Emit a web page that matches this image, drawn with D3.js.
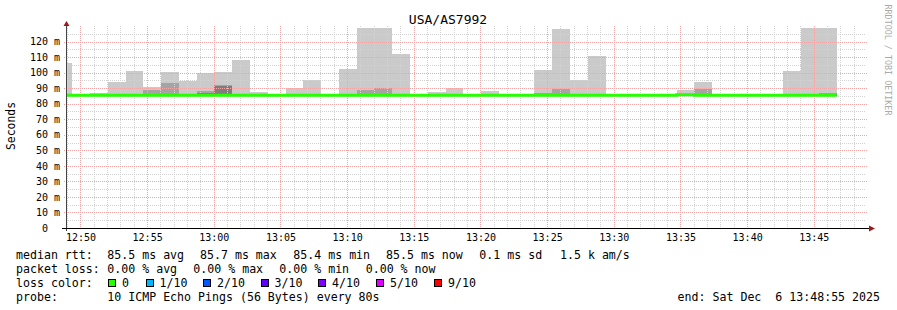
<!DOCTYPE html>
<html><head><meta charset="utf-8">
<script src="https://cdn.jsdelivr.net/npm/d3@7"></script>
<style>
html,body{margin:0;padding:0;background:#fff;}
svg text{font-family:"DejaVu Sans Mono",monospace;white-space:pre;}
</style>
</head><body>
<svg id="chart" width="897" height="310"></svg>
<script>
// ---------- data ----------
const chartTitle = "USA/AS7992";
const yAxisTitle = "Seconds";
const stepSeconds = 80;
const firstColumnStart = "2025-12-06T12:48:03Z";
const rangeStart = "2025-12-06T12:48:55Z";
const rangeEnd = "2025-12-06T13:48:55Z";

// one entry per 80 s column (milliseconds)
const medianRtt = [85.5,85.5,85.5,85.5,85.5,85.5,85.5,85.5,85.5,85.4,85.5,85.5,85.5,85.5,85.5,85.5,85.5,85.5,85.5,85.5,85.5,85.5,85.5,85.5,85.5,85.5,85.5,85.5,85.5,85.5,85.5,85.5,85.5,85.5,85.5,85.7,85.4,85.5,85.5,85.5,85.5,85.5,85.5,85.5];
const pingMax   = [106.5,86,86.8,94.2,101.0,90.7,100.5,94.8,99.8,100.5,108.2,87.6,86,89.8,95.3,86,102.4,128.9,128.9,112.1,86,87.7,90.2,86,88.2,86,86,101.8,128.3,95.3,110.8,86,86,86,86,88.9,94.1,86,86,86,86,101.1,128.8,128.8];
const ping9     = [86,86,86,86,86,88.5,93.5,86,88.0,91.8,86,86,86,86,86,86,86,88.9,90.2,86,86,86,86,86,86,86,86,87.1,89.6,86,86,86,86,86,86,86.5,89.6,86,86,86,86,86,86,87.0];
const ping8     = [86,86,86,86,86,86,86,86,87.2,91.5,86,86,86,86,86,86,86,86,86,86,86,86,86,86,86,86,86,86,86,86,86,86,86,86,86,86,86,86,86,86,86,86,86,86];
const pingMin   = [85.2,85.2,85.2,85.2,85.2,85.2,85.2,85.2,85.2,85.2,85.2,85.2,85.2,85.2,85.2,85.2,85.2,85.2,85.2,85.2,85.2,85.2,85.2,85.2,85.2,85.2,85.2,85.2,85.2,85.2,85.2,85.2,85.2,85.2,85.2,85.2,85.2,85.2,85.2,85.2,85.2,85.2,85.2,85.2];

const yTickValues = [0,10,20,30,40,50,60,70,80,90,100,110,120];
const yTickLabels = ["0","10 m","20 m","30 m","40 m","50 m","60 m","70 m","80 m","90 m","100 m","110 m","120 m"];
const yDomainMax = 130;

const rttLegend  = ["median rtt:","85.5 ms avg","85.7 ms max","85.4 ms min","85.5 ms now","0.1 ms sd","1.5 k am/s"];
const lossLegend = ["packet loss:","0.00 % avg","0.00 % max","0.00 % min","0.00 % now"];
const lossColorTitle = "loss color:";
const lossLabels = ["0","1/10","2/10","3/10","4/10","5/10","9/10"];
const lossColors = ["#26ff00","#00b8ff","#0059ff","#5e00ff","#7e00ff","#dd00ff","#ff0000"];
const probeLegend = ["probe:","10 ICMP Echo Pings (56 Bytes) every 80s"];
const endLabel = "end: Sat Dec  6 13:48:55 2025";
const watermark = "RRDTOOL / TOBI OETIKER";

// ---------- layout ----------
const svg = d3.select("#chart");
const P = {left:66, right:866, top:26, bottom:228};
const x = d3.scaleUtc().domain([new Date(rangeStart), new Date(rangeEnd)]).range([P.left, P.right]);
const y = d3.scaleLinear().domain([0, yDomainMax]).range([P.bottom, P.top]);

const t0 = new Date(firstColumnStart).getTime();
const cols = medianRtt.map((m,i)=>({
  s: new Date(t0 + i*stepSeconds*1000),
  e: new Date(t0 + (i+1)*stepSeconds*1000),
  med: m, max: pingMax[i], p9: ping9[i], p8: ping8[i], min: pingMin[i]
}));

svg.append("defs").append("clipPath").attr("id","plotclip")
  .append("rect").attr("x",P.left).attr("y",P.top).attr("width",P.right-P.left).attr("height",P.bottom-P.top);

const plot = svg.append("g").attr("clip-path","url(#plotclip)");

// smoke bands (outer -> inner)
const bands = [["max","#cacaca"],["p9","#a4a4a4"],["p8","#7e7e7e"]];
bands.forEach(([k,c])=>{
  plot.append("g").selectAll("rect").data(cols).join("rect")
    .attr("x", d=>x(d.s)).attr("width", d=>x(d.e)-x(d.s))
    .attr("y", d=>y(d[k])).attr("height", d=>Math.max(0,y(d.min)-y(d[k])))
    .attr("fill", c).attr("shape-rendering","crispEdges");
});

// grid (drawn over smoke, as rrdtool does)
const grid = svg.append("g").attr("shape-rendering","crispEdges");
const minorX = d3.utcMinute.every(1).range(x.domain()[0], x.domain()[1]);
const majorX = d3.utcMinute.every(5).range(x.domain()[0], x.domain()[1]);
const isMajor = d=>d.getUTCMinutes()%5===0;
const minorCol = "#d2d2d2", majorCol = "#f2a4a4";
grid.selectAll("line.vmin").data(minorX.filter(d=>!isMajor(d))).join("line")
  .attr("x1",d=>Math.round(x(d))+0.5).attr("x2",d=>Math.round(x(d))+0.5)
  .attr("y1",P.top).attr("y2",P.bottom)
  .attr("stroke",minorCol).attr("stroke-dasharray","1,1");
const hMinor = d3.range(5, yDomainMax, 10);
grid.selectAll("line.hmin").data(hMinor).join("line")
  .attr("x1",P.left).attr("x2",P.right)
  .attr("y1",d=>Math.round(y(d))+0.5).attr("y2",d=>Math.round(y(d))+0.5)
  .attr("stroke",minorCol).attr("stroke-dasharray","1,1");
grid.selectAll("line.vmaj").data(majorX).join("line")
  .attr("x1",d=>Math.round(x(d))+0.5).attr("x2",d=>Math.round(x(d))+0.5)
  .attr("y1",P.top).attr("y2",P.bottom+2)
  .attr("stroke",majorCol).attr("stroke-dasharray","1,1");
grid.selectAll("line.hmaj").data(yTickValues.filter(v=>v>0)).join("line")
  .attr("x1",P.left-2).attr("x2",P.right+2)
  .attr("y1",d=>Math.round(y(d))+0.5).attr("y2",d=>Math.round(y(d))+0.5)
  .attr("stroke",majorCol).attr("stroke-dasharray","1,1");

// median line (on top of grid)
const pts = [];
cols.forEach(d=>{pts.push([d.s,d.med]);});
pts.push([cols[cols.length-1].e, cols[cols.length-1].med]);
svg.append("g").attr("clip-path","url(#plotclip)").append("path").datum(pts)
  .attr("d", d3.line().x(d=>x(d[0])).y(d=>y(d[1])).curve(d3.curveStepAfter))
  .attr("fill","none").attr("stroke",lossColors[0]).attr("stroke-width",3);

// axes lines + arrows
svg.append("line").attr("x1",P.left+0.5).attr("x2",P.left+0.5).attr("y1",P.bottom+3).attr("y2",P.top-4)
  .attr("stroke","#444").attr("shape-rendering","crispEdges");
svg.append("line").attr("x1",P.left-4).attr("x2",P.right+4).attr("y1",P.bottom+0.5).attr("y2",P.bottom+0.5)
  .attr("stroke","#000").attr("shape-rendering","crispEdges");
svg.append("path").attr("d",`M${P.left+0.5},${P.top-5} L${P.left-2.5},${P.top} L${P.left+3.5},${P.top} Z`).attr("fill","#a01818");
svg.append("path").attr("d",`M${P.right+9},${P.bottom+0.5} L${P.right+3},${P.bottom-2.5} L${P.right+3},${P.bottom+3.5} Z`).attr("fill","#a01818");

// y axis labels
const yAxis = d3.axisLeft(y).tickValues(yTickValues)
  .tickFormat((d,i)=>yTickLabels[i]).tickSize(0).tickPadding(6);
const gy = svg.append("g").attr("transform",`translate(${P.left},0)`).call(yAxis);
gy.select(".domain").remove();
gy.selectAll("text").attr("font-size",10).attr("fill","#000").style("font-family","DejaVu Sans Mono")
  .attr("x",d=>d===0?-18:-6);

// x axis labels
const xAxis = d3.axisBottom(x).tickValues(majorX).tickFormat(d3.utcFormat("%H:%M")).tickSize(0).tickPadding(6);
const gx = svg.append("g").attr("transform",`translate(0,${P.bottom})`).call(xAxis);
gx.select(".domain").remove();
gx.selectAll("text").attr("font-size",10).attr("fill","#000").style("font-family","DejaVu Sans Mono");

// titles
svg.append("text").attr("x",448).attr("y",19.5).attr("text-anchor","middle").attr("dominant-baseline","central")
  .attr("font-size",13).attr("fill","#000").text(chartTitle);
svg.append("text").attr("transform","translate(11,126) rotate(-90)").attr("text-anchor","middle")
  .attr("dominant-baseline","central").attr("font-size",11.4).attr("fill","#000").text(yAxisTitle);
svg.append("text").attr("transform","translate(888,60) rotate(90)").attr("text-anchor","middle")
  .attr("dominant-baseline","central").attr("font-size",8.4).attr("fill","#aaaaaa").text(watermark);

// legend (rrdtool places each item separately)
const lfs = 11.6;
const lineY = [255, 268.5, 282.5, 296.5];
const rttX  = [16, 107.3, 200, 293.3, 386, 479.3, 560];
const lossX = [16, 107.3, 193.3, 279.3, 365.7];
const probeX = [16, 107.3];
function legendRow(items, xs, yy){
  items.forEach((t,i)=>svg.append("text").attr("x",xs[i]).attr("y",yy).attr("dominant-baseline","central")
    .attr("font-size",lfs).attr("fill","#000").text(t));
}
legendRow(rttLegend, rttX, lineY[0]);
legendRow(lossLegend, lossX, lineY[1]);
legendRow([lossColorTitle], [16], lineY[2]);
legendRow(probeLegend, probeX, lineY[3]);
const boxX = [108, 145.5, 203, 260.5, 318, 376, 434];
lossLabels.forEach((lab,i)=>{
  svg.append("rect").attr("x",Math.round(boxX[i])+0.5).attr("y",Math.round(lineY[2]-4)+0.5).attr("width",7).attr("height",7)
    .attr("fill",lossColors[i]).attr("stroke","#000").attr("stroke-width",1).attr("shape-rendering","crispEdges");
  svg.append("text").attr("x",boxX[i]+14).attr("y",lineY[2]).attr("dominant-baseline","central")
    .attr("font-size",lfs).attr("fill","#000").text(lab);
});
svg.append("text").attr("x",880).attr("y",lineY[3]).attr("text-anchor","end").attr("dominant-baseline","central")
  .attr("font-size",lfs).attr("fill","#000").text(endLabel);
</script>
</body></html>
